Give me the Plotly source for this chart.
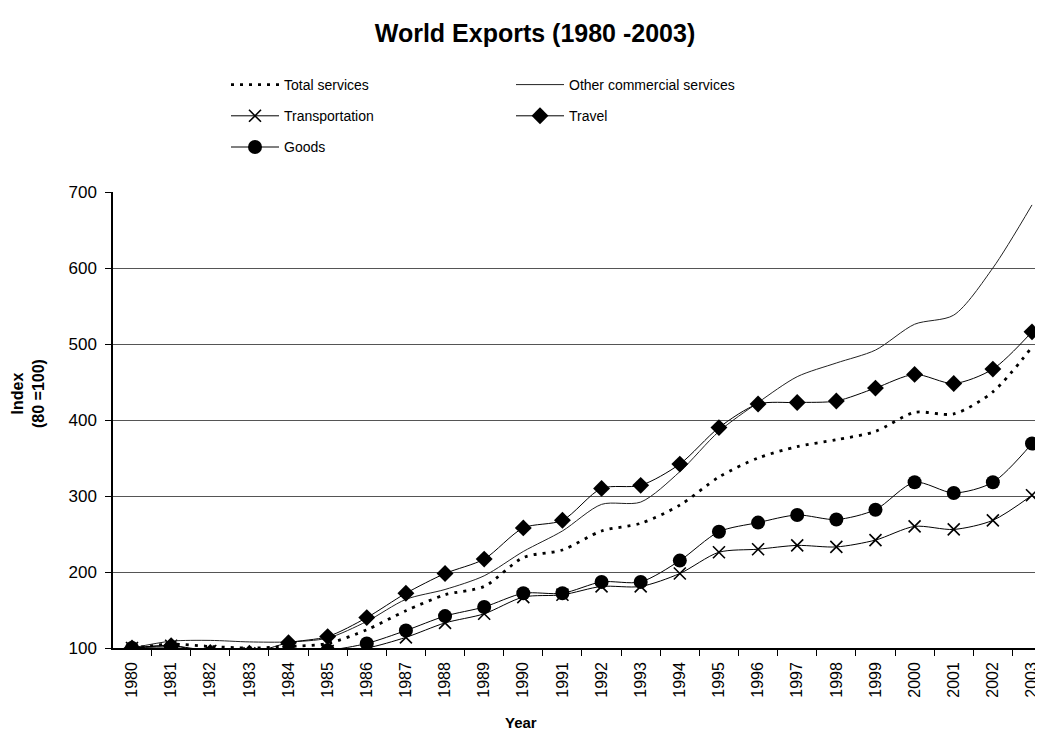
import plotly.graph_objects as go

years = list(range(1980, 2004))
year_labels = [str(y) for y in years]

total_services = [100, 105, 102, 100, 102, 106, 124, 149, 170, 181, 219, 229,
                  254, 264, 288, 325, 350, 365, 374, 385, 410, 408, 437, 496]
other_commercial = [100, 109, 110, 108, 108, 113, 135, 164, 177, 195, 227, 254,
                    289, 292, 332, 385, 423, 457, 475, 492, 526, 538, 600, 683]
transportation = [100, 103, 96, 93, 95, 96, 100, 114, 133, 145, 167, 170,
                  181, 181, 198, 226, 230, 235, 233, 242, 260, 256, 268, 301]
travel = [100, 103, 94, 93, 107, 115, 140, 172, 198, 217, 258, 268,
          310, 314, 342, 390, 421, 423, 425, 442, 460, 448, 467, 516]
goods = [100, 101, 93, 91, 96, 97, 106, 123, 142, 154, 172, 172,
         187, 187, 215, 253, 265, 275, 269, 282, 318, 304, 318, 369]

FONT = "Liberation Sans, Arial, sans-serif"
# page has an 8px body margin; figure coordinates = reference pixels - 8
W, H = 1035, 725
L, T, B = 105, 184, 85
PW, PH = W - L, H - T - B  # 930 x 456


def px(xf):
    return (xf - L) / PW


def py(yf):
    return (T + PH - yf) / PH


fig = go.Figure()


def add(name, vals, legend, dash=None, width=1, marker=None, color="black"):
    fig.add_trace(go.Scatter(
        x=years, y=vals, name=name, legend=legend, legendgroup=name,
        mode="lines+markers" if marker else "lines",
        line=dict(color=color, width=width, dash=dash, shape="spline", smoothing=0.8),
        marker=marker,
    ))


add("Total services", total_services, "legend", dash="3px,6px", width=2.8)
add("Transportation", transportation, "legend",
    marker=dict(symbol="x-thin", size=12, line=dict(width=1.6, color="black"), color="black"))
add("Goods", goods, "legend",
    marker=dict(symbol="circle", size=14, color="black"))
add("Other commercial services", other_commercial, "legend2", width=1, color="#222")
add("Travel", travel, "legend2",
    marker=dict(symbol="diamond", size=13, color="black"))

px_per_year = 39.13
x0 = 1980 - 19 / px_per_year
x1 = x0 + PW / px_per_year

legend_common = dict(xanchor="left", y=py(61), yanchor="top", orientation="v",
                     itemwidth=48, tracegroupgap=10, bgcolor="rgba(0,0,0,0)",
                     font=dict(size=14, family=FONT), itemclick=False)

fig.update_layout(
    width=W, height=H,
    margin=dict(l=L, r=0, t=T, b=B, pad=0),
    paper_bgcolor="white", plot_bgcolor="white",
    font=dict(family=FONT, color="black", size=15),
    title=dict(text="<b>World Exports (1980 -2003)</b>", x=527 / W, xanchor="center",
               y=1 - 25 / H, yanchor="middle", font=dict(size=25, family=FONT)),
    showlegend=True,
    legend=dict(x=px(218), **legend_common),
    legend2=dict(x=px(503), **legend_common),
    xaxis=dict(
        range=[x0, x1], tickmode="array", tickvals=years, ticktext=year_labels,
        tickangle=-90, ticks="", showgrid=False, zeroline=False,
        showline=True, linecolor="black", linewidth=1.5,
        tickfont=dict(size=16, family=FONT), ticklabelstandoff=6,
        minor=dict(tickmode="array", tickvals=[y + 0.5 for y in years[:-1]] + [1979.5],
                   ticks="outside", ticklen=6, tickcolor="black", tickwidth=1, showgrid=False),
    ),
    yaxis=dict(
        range=[100, 700], tickmode="array", tickvals=[100, 200, 300, 400, 500, 600, 700],
        ticks="outside", ticklen=6, tickcolor="black", tickwidth=1,
        showgrid=True, gridcolor="#555555", gridwidth=1, zeroline=False,
        showline=True, linecolor="black", linewidth=1.5,
        tickfont=dict(size=17, family=FONT), ticklabelstandoff=5,
    ),
    annotations=[
        dict(text="<b>Index<br>(80 =100)</b>", textangle=-90, xref="paper", yref="paper",
             x=px(20), y=py(386), xanchor="center", yanchor="middle",
             showarrow=False, font=dict(size=16, family=FONT)),
        dict(text="<b>Year</b>", xref="paper", yref="paper",
             x=px(513), y=py(714), xanchor="center", yanchor="middle",
             showarrow=False, font=dict(size=15, family=FONT)),
    ],
)

fig.write_html("out.html")
